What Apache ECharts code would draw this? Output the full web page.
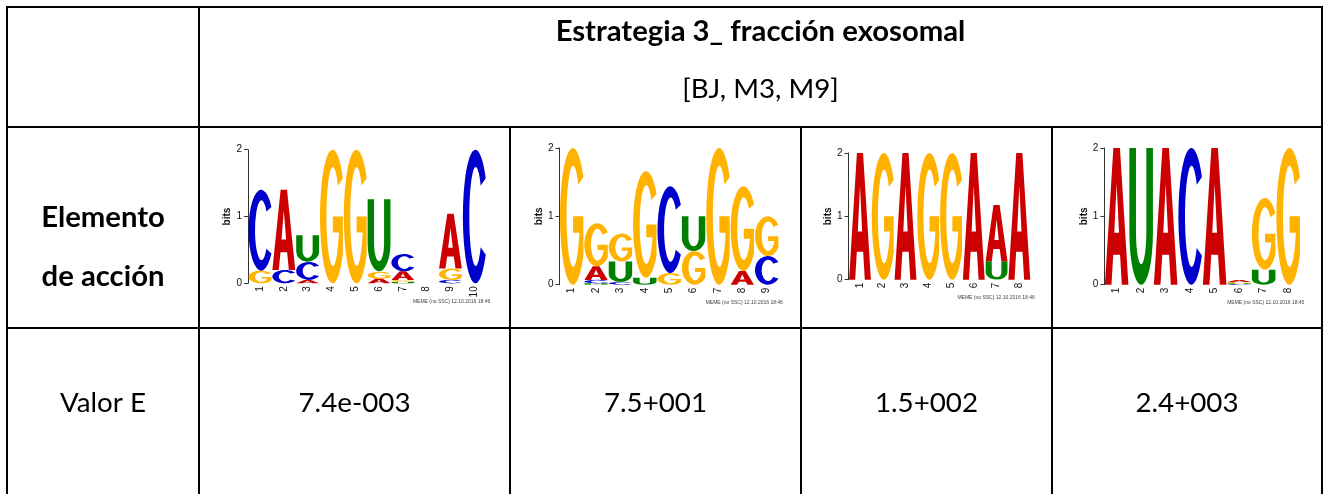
<!DOCTYPE html>
<html>
<head>
<meta charset="utf-8">
<title>Estrategia 3_ fracción exosomal</title>
<script src="https://cdn.jsdelivr.net/npm/echarts@6/dist/echarts.min.js"></script>
<style>
  html, body { margin: 0; padding: 0; background: #ffffff; }
  #chart { width: 1328px; height: 494px; }
</style>
</head>
<body>
<div id="chart"></div>
<script>
// ---- Table text ----
const headerTitle = 'Estrategia 3_ fracción exosomal';
const headerSubtitle = '[BJ, M3, M9]';
const rowLabelElement = ['Elemento', 'de acción'];
const rowLabelEValue = 'Valor E';
const eValues = ['7.4e-003', '7.5+001', '1.5+002', '2.4+003'];
const memeStamps = [
  'MEME (no SSC) 12.10.2016 18:46',
  'MEME (no SSC) 12.10.2016 18:46',
  'MEME (no SSC) 12.10.2016 18:46',
  'MEME (no SSC) 12.10.2016 18:45'
];
const bitTicks = [0, 1, 2];

// ---- Motif letter heights (bits) per position ----
// Motif 1: CAUGGUCNAC (10 positions)
const motif1A = [0, 1.20, 0.05, 0, 0, 0.07, 0.13, 0, 0.82, 0];
const motif1C = [1.21, 0.20, 0.27, 0, 0, 0, 0.26, 0, 0.05, 2.00];
const motif1G = [0.19, 0, 0, 2.00, 2.00, 0.10, 0.03, 0, 0.17, 0];
const motif1U = [0, 0, 0.40, 0, 0, 1.09, 0.02, 0, 0, 0];
// Motif 2: GGGGCUGGG (9 positions)
const motif2A = [0, 0.20, 0, 0, 0, 0, 0, 0.20, 0];
const motif2C = [0, 0.05, 0.04, 0, 1.27, 0, 0, 0, 0.42];
const motif2G = [2.00, 0.63, 0.41, 1.56, 0.17, 0.49, 2.00, 1.24, 0.58];
const motif2U = [0, 0.02, 0.30, 0.10, 0, 0.51, 0, 0, 0];
// Motif 3: AGAGGAAA (8 positions)
const motif3A = [2.00, 0, 2.00, 0, 0, 2.00, 0.89, 2.00];
const motif3C = [0, 0, 0, 0, 0, 0, 0, 0];
const motif3G = [0, 2.00, 0, 2.00, 2.00, 0, 0, 0];
const motif3U = [0, 0, 0, 0, 0, 0, 0.29, 0];
// Motif 4: AUACANGG (8 positions)
const motif4A = [2.00, 0, 2.00, 0, 2.00, 0.03, 0, 0];
const motif4C = [0, 0, 0, 2.00, 0, 0.01, 0, 0];
const motif4G = [0, 0, 0, 0, 0, 0.02, 1.05, 2.00];
const motif4U = [0, 2.00, 0, 0, 0, 0.01, 0.22, 0];

const motifs = [
  { A: motif1A, C: motif1C, G: motif1G, U: motif1U },
  { A: motif2A, C: motif2C, G: motif2G, U: motif2U },
  { A: motif3A, C: motif3C, G: motif3G, U: motif3U },
  { A: motif4A, C: motif4C, G: motif4G, U: motif4U }
];

const LETTERS = ['A', 'C', 'G', 'U'];
const letterColors = { A: '#CC0000', C: '#0000CC', G: '#FFB300', U: '#008000' };

// Letter outlines in a unit box (0..1 both ways, y down).
const glyphs = {
  A: [['M',0,1],['L',0.36,0],['L',0.64,0],['L',1,1],['L',0.72,1],['L',0.645,0.78],['L',0.355,0.78],['L',0.28,1],['Z'],
      ['M',0.40,0.62],['L',0.60,0.62],['L',0.50,0.26],['Z']],
  C: [['M',1,0.213],['A',0.55,0.5,1,0,1,0.787],['L',0.78,0.731],['A',0.28,0.37,1,1,0.78,0.269],['Z']],
  G: [['M',1,0.213],['A',0.55,0.5,1,0,1,0.787],['L',1,0.5],['L',0.56,0.5],['L',0.56,0.62],['L',0.826,0.62],
      ['A',0.28,0.37,1,1,0.78,0.269],['Z']],
  U: [['M',0,0],['L',0.28,0],['L',0.28,0.62],['A',0.22,0.24,0,0,0.72,0.62],['L',0.72,0],['L',1,0],['L',1,0.62],
      ['A',0.5,0.38,0,1,0,0.62],['Z']]
};

// Build an SVG path string for a letter stretched into the box (x, y, w, h).
function glyphPath(letter, x, y, w, h) {
  return glyphs[letter].map(function (s) {
    if (s[0] === 'M' || s[0] === 'L') return s[0] + (x + s[1] * w).toFixed(2) + ',' + (y + s[2] * h).toFixed(2);
    if (s[0] === 'A') return 'A' + (s[1] * w).toFixed(3) + ',' + (s[2] * h).toFixed(3) + ' 0 ' + s[3] + ',' + s[4] + ' ' +
      (x + s[5] * w).toFixed(2) + ',' + (y + s[6] * h).toFixed(2);
    return 'Z';
  }).join(' ');
}

function logoRenderer(motif) {
  return function (params, api) {
    const i = api.value(0);
    const stack = LETTERS.map(function (l) { return { l: l, h: motif[l][i] }; })
      .filter(function (d) { return d.h > 0.004; })
      .sort(function (a, b) { return a.h - b.h; });
    const band = api.size([1, 0])[0];
    const w = band * 0.96;
    let base = 0;
    const children = [];
    stack.forEach(function (d) {
      const p0 = api.coord([i, base]);
      const p1 = api.coord([i, base + d.h]);
      const hh = p0[1] - p1[1];
      children.push({
        type: 'path',
        shape: { pathData: glyphPath(d.l, p0[0] - w / 2, p1[1], w, hh) },
        style: { fill: letterColors[d.l] }
      });
      base += d.h;
    });
    return { type: 'group', children: children };
  };
}

// ---- Layout ----
const panelBoxes = [
  { left: 248.1, top: 149.7, width: 238.1, height: 133.6 },
  { left: 559.5, top: 148.0, width: 219.4, height: 136.7 },
  { left: 848.6, top: 153.0, width: 182.1, height: 126.7 },
  { left: 1104.4, top: 148.0, width: 196.0, height: 136.7 }
];
const colEdges = [7, 199, 510, 801, 1052, 1322];
const rowEdges = [7, 127, 328];

const textFamily = 'Lato';
const logoFamily = 'Liberation Sans';

const measureCtx = document.createElement('canvas').getContext('2d');
function fitSize(text, weight, target) {
  measureCtx.font = weight + ' 100px ' + textFamily;
  return 100 * target / measureCtx.measureText(text).width;
}
const boldSize = fitSize(headerTitle, 'bold', 410);
const regSize = (fitSize('7.4e-003', 'normal', 107) + fitSize(rowLabelEValue, 'normal', 90)) / 2;

const grids = [], xAxes = [], yAxes = [], series = [];
motifs.forEach(function (motif, k) {
  const n = motif.A.length;
  const b = panelBoxes[k];
  grids.push({ left: b.left, top: b.top, width: b.width, height: b.height, outerBoundsMode: 'none', containLabel: false });
  xAxes.push({
    type: 'category', gridIndex: k,
    data: motif.A.map(function (_, i) { return String(i + 1); }),
    axisLine: { show: false }, axisTick: { show: false },
    axisLabel: { rotate: 90, margin: 3, fontSize: 10, fontFamily: logoFamily, color: '#111', interval: 0 },
    splitLine: { show: false }
  });
  yAxes.push({
    type: 'value', gridIndex: k, min: bitTicks[0], max: bitTicks[bitTicks.length - 1], interval: 1,
    name: 'bits', nameLocation: 'middle', nameGap: 13, nameRotate: 90,
    nameTextStyle: { fontSize: 10, fontWeight: 'bold', fontFamily: logoFamily, color: '#111' },
    axisLine: { show: true, lineStyle: { color: '#333', width: 1 } },
    axisTick: { show: true, length: 4, lineStyle: { color: '#333', width: 1 } },
    axisLabel: { margin: 6, fontSize: 10, fontFamily: logoFamily, color: '#111' },
    splitLine: { show: false }
  });
  series.push({
    type: 'custom', xAxisIndex: k, yAxisIndex: k, clip: false, silent: true, animation: false,
    renderItem: logoRenderer(motif),
    data: motif.A.map(function (_, i) { return [i]; })
  });
});

// Table borders and cell text
const elements = [];
const line = '#000000';
function rect(x, y, w, h) {
  elements.push({ type: 'rect', shape: { x: x, y: y, width: w, height: h }, style: { fill: line }, silent: true });
}
const right = colEdges[colEdges.length - 1];
rect(colEdges[0] - 1, rowEdges[0] - 1, right - colEdges[0] + 2, 2);
rect(colEdges[0] - 1, rowEdges[1] - 1, right - colEdges[0] + 2, 2);
rect(colEdges[0] - 1, rowEdges[2] - 1, right - colEdges[0] + 2, 2);
rect(colEdges[0] - 1, rowEdges[0] - 1, 2, 494);
rect(colEdges[1] - 1, rowEdges[0] - 1, 2, 494);
rect(right - 1, rowEdges[0] - 1, 2, 494);
for (let c = 2; c < colEdges.length - 1; c++) rect(colEdges[c] - 1, rowEdges[1] - 1, 2, 494);

function label(text, x, y, size, weight) {
  elements.push({
    type: 'text', x: x, y: y, silent: true,
    style: { text: text, fontFamily: textFamily, fontSize: size, fontWeight: weight, fill: '#000', align: 'center', verticalAlign: 'middle' }
  });
}
const headerCenter = (colEdges[1] + right) / 2;
label(headerTitle, headerCenter, 32, boldSize, 'bold');
label(headerSubtitle, headerCenter, 89, regSize, 'normal');
const firstCenter = (colEdges[0] + colEdges[1]) / 2;
label(rowLabelElement[0], firstCenter, 218, boldSize, 'bold');
label(rowLabelElement[1], firstCenter, 277, boldSize, 'bold');
label(rowLabelEValue, firstCenter, 403, regSize, 'normal');
eValues.forEach(function (v, k) {
  label(v, (colEdges[k + 1] + colEdges[k + 2]) / 2, 403, regSize, 'normal');
});

// Program stamp under each logo
memeStamps.forEach(function (s, k) {
  const b = panelBoxes[k];
  elements.push({
    type: 'text', x: b.left + b.width + 4, y: b.top + b.height + 18, silent: true,
    style: { text: s, fontFamily: logoFamily, fontSize: 5, fill: '#444', align: 'right', verticalAlign: 'middle' }
  });
});

const chart = echarts.init(document.getElementById('chart'), null, { renderer: 'canvas' });
chart.setOption({
  animation: false,
  backgroundColor: '#ffffff',
  grid: grids,
  xAxis: xAxes,
  yAxis: yAxes,
  series: series,
  graphic: { elements: elements }
});
</script>
</body>
</html>
